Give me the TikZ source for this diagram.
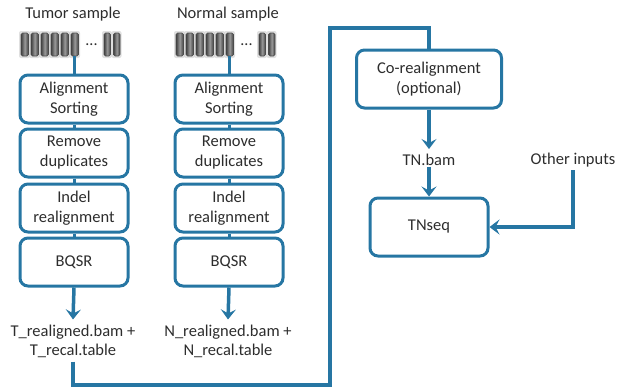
\documentclass[tikz,border=0pt]{standalone}
\usepackage{fontspec}
\setmainfont{Carlito}
\usetikzlibrary{arrows.meta,calc}
\definecolor{flowblue}{RGB}{38,118,163}
\definecolor{txt}{RGB}{45,45,45}
\begin{document}
\begin{tikzpicture}[x=1pt,y=-1pt,
  stepbox/.style={draw=flowblue,line width=3pt,rounded corners=8pt,fill=white,
    minimum width=108pt,minimum height=48pt,align=center,text=txt,
    font=\fontsize{16.5}{20}\selectfont,inner sep=2pt},
  label/.style={align=center,text=txt,font=\fontsize{16.5}{19}\selectfont,inner sep=1pt},
  conn/.style={draw=flowblue,line width=3pt},
  arr/.style={draw=flowblue,line width=3.5pt,-{Stealth[length=10pt,width=15pt,inset=4pt]}},
  bar/.style={draw=black!70,line width=0.6pt,left color=black!75,right color=black!75,middle color=black!40}
]
\useasboundingbox (0,0) rectangle (618,391);

% headings
\node[label] (th) at (73,14) {Tumor sample};
\node[label] (nh) at (228,14) {Normal sample};

% read strips
\node[minimum width=100pt,minimum height=24pt,inner sep=0pt] (ts) at (70,44) {};
\node[minimum width=100pt,minimum height=24pt,inner sep=0pt] (ns) at (226,44) {};
\foreach \ox in {20,175}{
  \foreach \i in {0,...,5}{
    \fill[black!20,opacity=0.6,rounded corners=2pt] (\ox+\i*10-1,31) rectangle (\ox+\i*10+10,58);
    \shade[bar,rounded corners=1.5pt] (\ox+\i*10+1,33) rectangle (\ox+\i*10+8.5,56);
  }
  \foreach \i in {0,1}{
    \fill[black!20,opacity=0.6,rounded corners=2pt] (\ox+83+\i*9.5-1,31) rectangle (\ox+83+\i*9.5+9,58);
    \shade[bar,rounded corners=1.5pt] (\ox+83+\i*9.5+1,33) rectangle (\ox+83+\i*9.5+7.5,56);
  }
  \node[text=txt,font=\fontsize{16}{16}\selectfont,inner sep=0pt] at (\ox+71.5,45) {...};
}

% tumor column
\node[stepbox] (t1) at (74,99) {Alignment\\Sorting};
\node[stepbox] (t2) at (74,153) {Remove\\duplicates};
\node[stepbox] (t3) at (74,208) {Indel\\realignment};
\node[stepbox] (t4) at (74,262) {BQSR};
\node[label] (tout) at (73,341) {T\_realigned.bam +\\T\_recal.table};

% normal column
\node[stepbox] (n1) at (229,99) {Alignment\\Sorting};
\node[stepbox] (n2) at (229,153) {Remove\\duplicates};
\node[stepbox] (n3) at (229,208) {Indel\\realignment};
\node[stepbox] (n4) at (229,262) {BQSR};
\node[label] (nout) at (228,341) {N\_realigned.bam +\\N\_recal.table};

% right side
\node[stepbox,minimum width=145pt,minimum height=58pt] (co) at (429,79) {Co-realignment\\(optional)};
\node[label] (tn) at (429,160) {TN.bam};
\node[stepbox,minimum width=118pt,minimum height=58pt] (seq) at (429,227) {TNseq};
\node[label] (oth) at (573,160) {Other inputs};

% connectors
\draw[conn] (ts.south -| t1.north) -- (t1.north);
\draw[conn] (ns.south -| n1.north) -- (n1.north);
\foreach \a/\b in {t1/t2,t2/t3,t3/t4,n1/n2,n2/n3,n3/n4}
  \draw[conn] (\a.south) -- (\b.north);
\draw[arr] (t4.south) -- ($(tout.north)+(0,-4)$);
\draw[arr] (n4.south) -- ($(nout.north)+(0,-4)$);

\coordinate (c1) at (330,385);
\coordinate (c2) at (330,28);
\draw[conn,line width=3.5pt] ($(tout.south)+(0,3)$) |- (c1) -- (c2) -| (co.north);
\draw[conn,line width=3.5pt] ($(nout.south)+(0,3)$) -- ($(nout.south)+(0,3)$ |- c1);

\draw[arr] (co.south) -- ($(tn.north)+(0,-4)$);
\draw[arr] (tn.south) -- (seq.north);
\draw[arr] ($(oth.south)+(0,2)$) |- (seq.east);
\end{tikzpicture}
\end{document}
